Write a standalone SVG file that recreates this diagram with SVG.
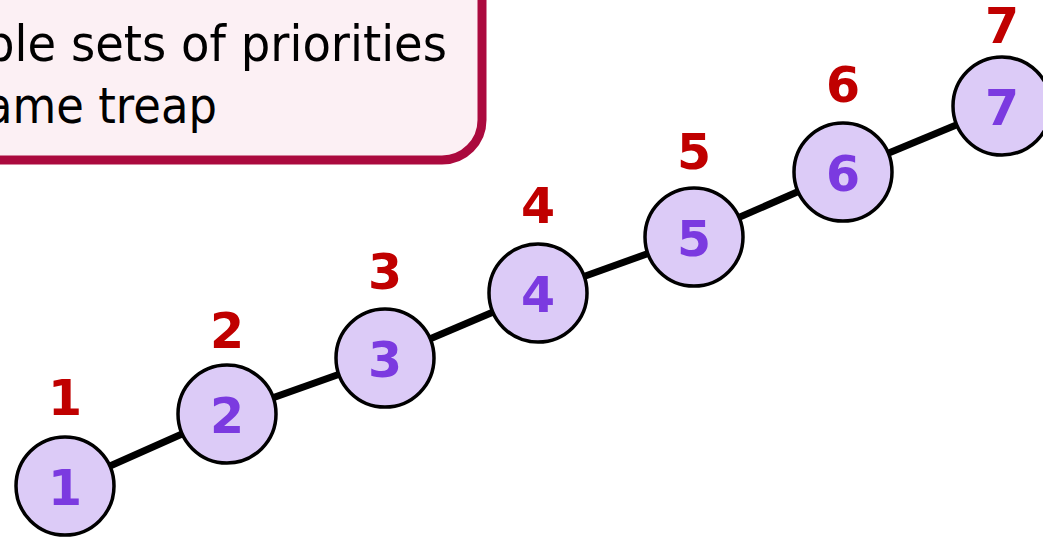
<svg xmlns="http://www.w3.org/2000/svg" width="1043" height="537" viewBox="0 0 1043 537">
  <style>
    .edge { stroke: #000; stroke-width: 7; fill: none; }
    .node circle { fill: #dccbf7; stroke: #000; stroke-width: 3.5; }
    .key { font-family: "DejaVu Sans", Verdana, sans-serif; font-weight: bold; font-size: 49px; fill: #7b3ae0; text-anchor: middle; }
    .prio { font-family: "DejaVu Sans", Verdana, sans-serif; font-weight: bold; font-size: 49px; fill: #c00000; text-anchor: middle; }
    .note { font-family: "DejaVu Sans", Verdana, sans-serif; font-size: 50px; fill: #000; }
  </style>

  <!-- callout box (extends past the top-left edge) -->
  <g id="callout">
    <rect x="-60" y="-60" width="542" height="220" rx="40" ry="40" fill="#fcf0f4" stroke="#ab0a3e" stroke-width="9"/>
    <text class="note" x="-15" y="61" textLength="462" lengthAdjust="spacingAndGlyphs">ble sets of priorities</text>
    <text class="note" x="-15" y="123" textLength="232" lengthAdjust="spacingAndGlyphs">ame treap</text>
  </g>

  <!-- tree edges -->
  <g id="edges">
    <line class="edge" x1="65" y1="486" x2="227" y2="414"/>
    <line class="edge" x1="227" y1="414" x2="385" y2="358"/>
    <line class="edge" x1="385" y1="358" x2="538" y2="293"/>
    <line class="edge" x1="538" y1="293" x2="694" y2="237"/>
    <line class="edge" x1="694" y1="237" x2="843" y2="172"/>
    <line class="edge" x1="843" y1="172" x2="1002" y2="106"/>
  </g>

  <g id="node1" class="node">
    <circle cx="65" cy="486" r="49"/>
    <text class="key" x="65" y="505">1</text>
    <text class="prio" x="65" y="415">1</text>
  </g>
  <g id="node2" class="node">
    <circle cx="227" cy="414" r="49"/>
    <text class="key" x="227" y="433">2</text>
    <text class="prio" x="227" y="348">2</text>
  </g>
  <g id="node3" class="node">
    <circle cx="385" cy="358" r="49"/>
    <text class="key" x="385" y="377">3</text>
    <text class="prio" x="385" y="289">3</text>
  </g>
  <g id="node4" class="node">
    <circle cx="538" cy="293" r="49"/>
    <text class="key" x="538" y="312">4</text>
    <text class="prio" x="538" y="223">4</text>
  </g>
  <g id="node5" class="node">
    <circle cx="694" cy="237" r="49"/>
    <text class="key" x="694" y="256">5</text>
    <text class="prio" x="694" y="169">5</text>
  </g>
  <g id="node6" class="node">
    <circle cx="843" cy="172" r="49"/>
    <text class="key" x="843" y="191">6</text>
    <text class="prio" x="843" y="102">6</text>
  </g>
  <g id="node7" class="node">
    <circle cx="1002" cy="106" r="49"/>
    <text class="key" x="1002" y="125">7</text>
    <text class="prio" x="1002" y="43">7</text>
  </g>
</svg>
